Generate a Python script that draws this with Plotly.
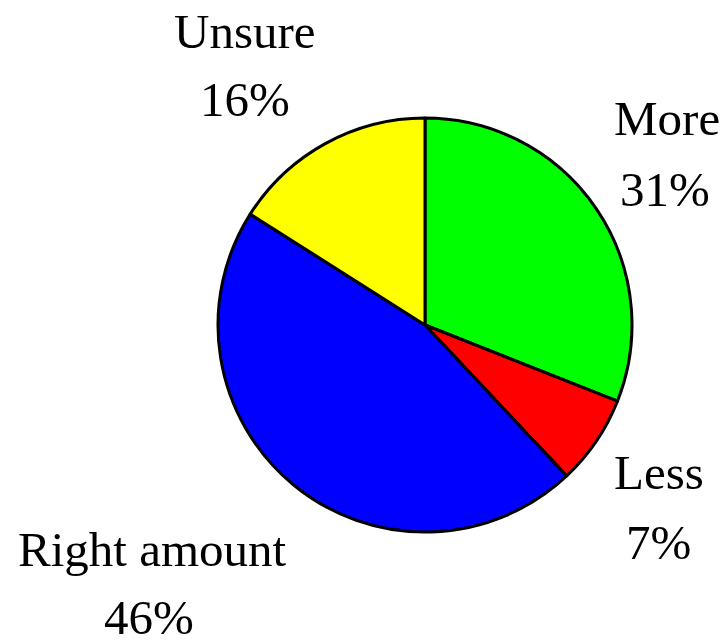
import plotly.graph_objects as go

categories = ["More", "Less", "Right amount", "Unsure"]
values = [31, 7, 46, 16]
colors = ["#00ff00", "#ff0000", "#0000ff", "#ffff00"]

W, H = 727, 641
# label placement (pixel centers) for name line and percent line
label_pos = {
    "More": (667, 119, 665, 189),
    "Less": (659, 472, 658, 542),
    "Right amount": (152, 549, 149, 617),
    "Unsure": (245, 31, 245, 100),
}

fig = go.Figure(go.Pie(
    labels=categories, values=values, sort=False, direction="clockwise",
    rotation=0, marker=dict(colors=colors, line=dict(color="black", width=3)),
    textinfo="none", hoverinfo="label+percent", showlegend=False,
    domain=dict(x=[218 / W, 632 / W], y=[(316 - 207) / H, (316 + 207) / H]),
))

total = sum(values)
annotations = []
for cat, val in zip(categories, values):
    nx, ny, px, py = label_pos[cat]
    for txt, x, y in ((cat, nx, ny), (f"{round(100 * val / total)}%", px, py)):
        annotations.append(dict(
            text=txt, x=x / W, y=1 - y / H, xref="paper", yref="paper",
            xanchor="center", yanchor="middle", showarrow=False,
            font=dict(family="Liberation Serif", size=49, color="black"),
        ))

fig.update_layout(
    width=W, height=H, margin=dict(l=0, r=0, t=0, b=0),
    paper_bgcolor="white", plot_bgcolor="white", annotations=annotations,
)
fig.write_html("out.html", config={"displayModeBar": False},
               post_script="document.body.style.margin='0';")
